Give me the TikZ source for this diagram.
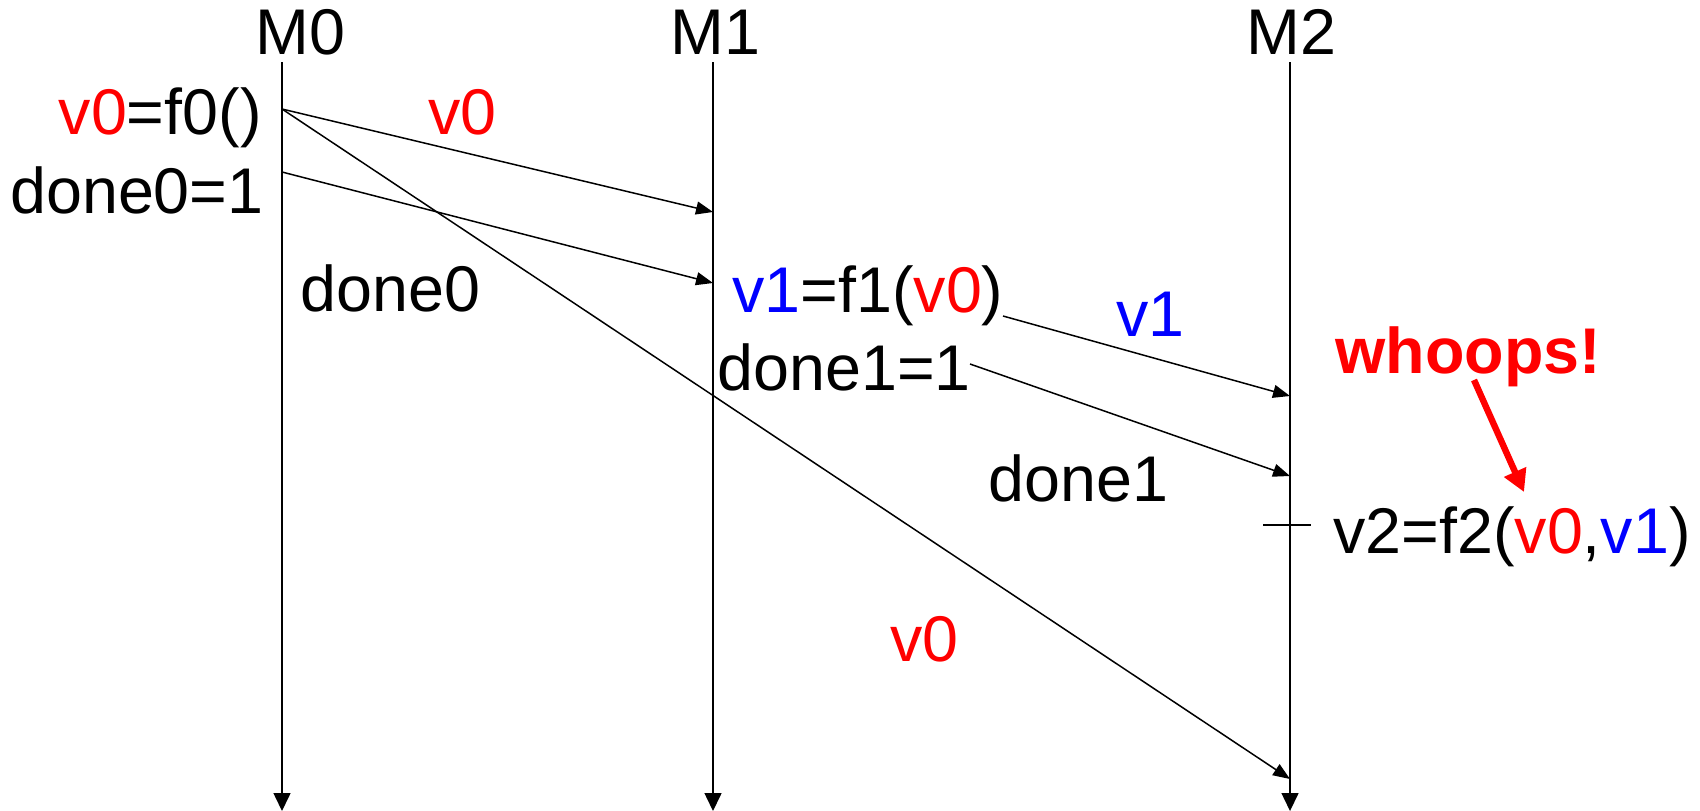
\documentclass[tikz,border=0pt]{standalone}
\usepackage{fontspec}
\setmainfont{Liberation Sans}
\usetikzlibrary{arrows.meta}

\begin{document}
\begin{tikzpicture}[x=0.5pt,y=-0.5pt,
  lbl/.style={inner sep=0pt,anchor=base west,font=\fontsize{32.3}{38}\selectfont},
  lble/.style={lbl,anchor=base east},
  life/.style={line width=0.75pt,-{Triangle[length=9pt,width=8.5pt]}},
  msg/.style={line width=0.75pt,-{Triangle[length=8.5pt,width=6.5pt]}},
  oops/.style={red,line width=3.2pt,-{Triangle[length=11pt,width=11.5pt]}}]
\useasboundingbox (0,0) rectangle (1700,810);
% machines and their time lines
\node[lbl] (m0) at (255,54) {M0};
\node[lbl] (m1) at (670,54) {M1};
\node[lbl] (m2) at (1246,54) {M2};
\coordinate (top0) at (282,62);  \coordinate (end0) at (282,811);
\coordinate (top1) at (713,62);  \coordinate (end1) at (713,811);
\coordinate (top2) at (1290,62); \coordinate (end2) at (1290,811);
\draw[life] (top0) -- (end0);
\draw[life] (top1) -- (end1);
\draw[life] (top2) -- (end2);
% M0
\node[lble] (f0) at (262,134) {\textcolor{red}{v0}=f0()};
\node[lble] (set0) at (264,213) {done0=1};
\coordinate (sendv0) at (282,109);
\coordinate (senddone0) at (282,172);
\coordinate (getv0) at (713,212);
\coordinate (getdone0) at (713,283);
\coordinate (latev0) at (1290,779);
\draw[msg] (sendv0) -- (getv0);
\draw[msg] (senddone0) -- (getdone0);
\draw[msg] (sendv0) -- (latev0);
\node[lbl,red] (v0a) at (428,134) {v0};
\node[lbl] (done0) at (300,311) {done0};
\node[lbl,red] (v0b) at (890,661) {v0};
% M1
\node[lbl] (f1) at (732,312) {\textcolor{blue}{v1}=f1(\textcolor{red}{v0})};
\node[lbl] (set1) at (717,390) {done1=1};
\coordinate (sendv1) at (1003,316);
\coordinate (senddone1) at (970,364);
\coordinate (getv1) at (1290,396);
\coordinate (getdone1) at (1290,476);
\draw[msg] (sendv1) -- (getv1);
\draw[msg] (senddone1) -- (getdone1);
\node[lbl,blue] (v1) at (1116,336) {v1};
\node[lbl] (done1) at (988,501) {done1};
% M2
\coordinate (tickl) at (1263,525);
\coordinate (tickr) at (1311,525);
\draw[line width=0.75pt] (tickl) -- (tickr);
\node[lbl] (f2) at (1333,553) {v2=f2(\textcolor{red}{v0},\textcolor{blue}{v1})};
\node[lbl,red,font=\fontsize{32.3}{38}\selectfont\bfseries] (whoops) at (1335,373) {whoops!};
\coordinate (whoopsfrom) at (1474,380);
\coordinate (whoopsto) at (1524,492);
\draw[oops] (whoopsfrom) -- (whoopsto);
\end{tikzpicture}
\end{document}
